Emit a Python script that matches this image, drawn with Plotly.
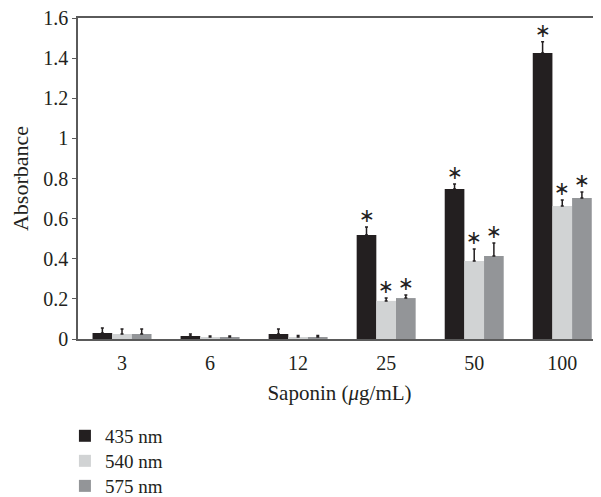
import plotly.graph_objects as go

categories = ["3", "6", "12", "25", "50", "100"]
series_names = ["435 nm", "540 nm", "575 nm"]
v435 = [0.030, 0.015, 0.025, 0.518, 0.748, 1.426]
v540 = [0.025, 0.010, 0.010, 0.190, 0.389, 0.663]
v575 = [0.025, 0.010, 0.010, 0.204, 0.414, 0.703]
e435 = [0.025, 0.010, 0.025, 0.040, 0.025, 0.055]
e540 = [0.025, 0.005, 0.008, 0.014, 0.060, 0.030]
e575 = [0.025, 0.005, 0.008, 0.015, 0.065, 0.030]
sig435 = [False, False, False, True, True, True]
sig540 = [False, False, False, True, True, True]
sig575 = [False, False, False, True, True, True]
y_ticks = [0, 0.2, 0.4, 0.6, 0.8, 1.0, 1.2, 1.4, 1.6]

colors = ["#231f20", "#d1d3d4", "#939598"]
values = [v435, v540, v575]
errors = [e435, e540, e575]
sigs = [sig435, sig540, sig575]
FONT = "Liberation Serif"
FS = 20

legend_ids = ["legend", "legend2", "legend3"]
legend_y = [-0.302, -0.380, -0.458]

fig = go.Figure()
for name, v, e, c, lg in zip(series_names, values, errors, colors, legend_ids):
    fig.add_trace(go.Bar(
        x=categories, y=v, name=name, legend=lg,
        marker=dict(color=c, line=dict(width=0)),
        error_y=dict(type="data", array=e, arrayminus=[0] * len(e), symmetric=False,
                     color="#231f20", thickness=1.5, width=1.5),
    ))

bar_px = 19.6
for k, (v, e, s) in enumerate(zip(values, errors, sigs)):
    for i, (vi, ei, si) in enumerate(zip(v, e, s)):
        if si:
            fig.add_annotation(x=i, y=vi + ei, text="∗", showarrow=False,
                               xshift=(k - 1) * bar_px, yanchor="bottom", yshift=-1,
                               font=dict(family="DejaVu Sans", size=19, color="#231f20"))

legend_style = dict(x=-0.025, xanchor="left", yanchor="middle", orientation="v",
                    font=dict(family=FONT, size=19), bgcolor="rgba(0,0,0,0)")

fig.update_layout(
    width=593, height=489,
    margin=dict(l=70, r=0, t=10, b=158, autoexpand=False),
    paper_bgcolor="white", plot_bgcolor="white",
    font=dict(family=FONT, size=FS, color="#231f20"),
    barmode="group", bargap=0.33, bargroupgap=0,
    showlegend=True,
    legend=dict(y=legend_y[0], **legend_style),
    legend2=dict(y=legend_y[1], **legend_style),
    legend3=dict(y=legend_y[2], **legend_style),
)
fig.update_xaxes(
    type="category", range=[-0.5, 5.44], automargin=False,
    showline=True, linecolor="#5a5a5a", linewidth=1.5, mirror=True,
    ticks="", showgrid=False, zeroline=False,
    tickfont=dict(family=FONT, size=FS), ticklabelstandoff=5,
    title=dict(text="Saponin (<i>μ</i>g/mL)", font=dict(family=FONT, size=21), standoff=13),
)
fig.update_yaxes(
    range=[0, 1.6], tickvals=y_ticks, ticktext=[f"{t:g}" for t in y_ticks],
    automargin=False, ticklabeloverflow="allow",
    showline=True, linecolor="#5a5a5a", linewidth=1.5,
    ticks="outside", ticklen=4, tickcolor="#5a5a5a",
    showgrid=False, zeroline=False,
    tickfont=dict(family=FONT, size=FS),
    title=dict(text="Absorbance", font=dict(family=FONT, size=22), standoff=20),
)

fig.write_html("out.html")
